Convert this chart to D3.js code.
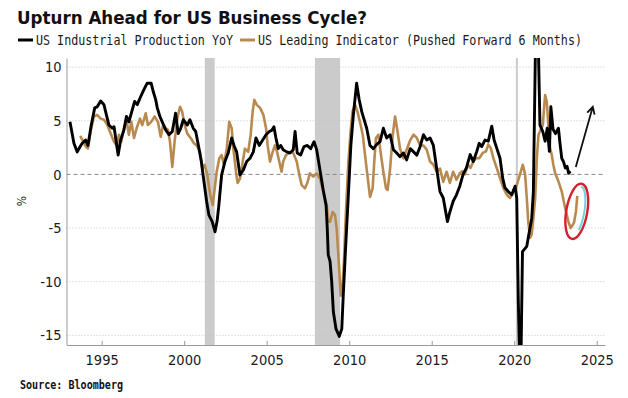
<!DOCTYPE html>
<html>
<head>
<meta charset="utf-8">
<script src="https://cdn.jsdelivr.net/npm/d3@7"></script>
<style>
  body { margin: 0; background: #fff; }
  svg { display: block; }
</style>
</head>
<body>
<div id="chart"></div>
<script>
const title = "Upturn Ahead for US Business Cycle?";
const seriesNames = ["US Industrial Production YoY", "US Leading Indicator (Pushed Forward 6 Months)"];
const sourceText = "Source: Bloomberg";

// [decimal year, % YoY]
const industrialProduction = [
    [1993.08, 4.9], [1993.32, 2.9], [1993.52, 2.1], [1993.7, 2.6], [1993.82, 2.9],
    [1994.03, 3.2], [1994.17, 2.7], [1994.37, 4.6], [1994.58, 6.2], [1994.73, 6.3],
    [1994.94, 6.85], [1995.14, 6.5], [1995.24, 5.85], [1995.44, 4.6], [1995.64, 4.3],
    [1995.75, 4.45], [1995.85, 3.4], [1996.0, 1.8], [1996.15, 3.2], [1996.35, 4.15],
    [1996.5, 5.4], [1996.65, 4.9], [1996.85, 6.0], [1997.0, 6.8], [1997.16, 6.5],
    [1997.32, 7.1], [1997.56, 7.9], [1997.76, 8.5], [1998.0, 8.5], [1998.13, 7.7],
    [1998.27, 7.0], [1998.37, 6.2], [1998.53, 5.4], [1998.67, 4.9], [1998.88, 4.15],
    [1999.08, 3.7], [1999.28, 4.0], [1999.48, 5.7], [1999.64, 3.8], [1999.79, 4.3],
    [1999.95, 5.1], [2000.19, 4.6], [2000.35, 5.1], [2000.55, 4.3], [2000.7, 4.0],
    [2000.9, 2.4], [2001.04, 1.2], [2001.2, -0.7], [2001.36, -2.5], [2001.5, -3.8],
    [2001.7, -4.4], [2001.87, -5.35], [2002.0, -4.3], [2002.1, -2.9], [2002.27, -0.05],
    [2002.47, 1.2], [2002.67, 2.0], [2002.88, 3.4], [2003.02, 2.7], [2003.18, 2.1],
    [2003.38, -0.05], [2003.58, 0.4], [2003.79, 1.2], [2003.99, 1.5], [2004.19, 2.1],
    [2004.35, 3.4], [2004.55, 2.7], [2004.76, 3.2], [2004.96, 3.7], [2005.16, 4.0],
    [2005.3, 4.1], [2005.44, 4.45], [2005.56, 3.4], [2005.7, 2.4], [2005.85, 2.7],
    [2006.0, 2.3], [2006.21, 2.1], [2006.41, 2.0], [2006.61, 2.3], [2006.72, 4.0],
    [2006.85, 2.0], [2007.06, 1.8], [2007.26, 2.6], [2007.46, 2.7], [2007.67, 2.4],
    [2007.87, 3.05], [2008.03, 2.3], [2008.23, 0.4], [2008.43, -1.5], [2008.6, -2.9],
    [2008.67, -5.0], [2008.73, -7.5], [2008.84, -8.1], [2008.94, -10.0], [2009.04, -12.8],
    [2009.2, -14.4], [2009.4, -15.1], [2009.55, -14.4], [2009.64, -11.25], [2009.79, -6.6],
    [2009.95, -1.9], [2010.1, 2.7], [2010.25, 5.5], [2010.45, 8.5], [2010.6, 7.0],
    [2010.76, 5.85], [2011.06, 4.3], [2011.26, 2.7], [2011.46, 2.4], [2011.67, 2.8],
    [2011.87, 3.05], [2012.07, 4.3], [2012.27, 3.4], [2012.48, 3.7], [2012.68, 2.3],
    [2012.88, 2.0], [2013.08, 1.65], [2013.28, 2.0], [2013.48, 1.35], [2013.7, 2.4],
    [2013.9, 2.1], [2014.1, 1.8], [2014.3, 2.6], [2014.5, 3.7], [2014.7, 3.2],
    [2014.9, 3.4], [2015.1, 2.7], [2015.3, 0.55], [2015.5, -1.6], [2015.7, -2.2],
    [2015.95, -4.4], [2016.1, -3.5], [2016.3, -2.5], [2016.5, -1.9], [2016.7, -1.1],
    [2016.9, 0], [2017.1, 0.6], [2017.33, 1.85], [2017.52, 1.2], [2017.73, 2.15],
    [2017.88, 2.9], [2018.03, 2.6], [2018.23, 3.2], [2018.43, 3.1], [2018.64, 4.5],
    [2018.78, 3.2], [2018.94, 2.45], [2019.14, 1.5], [2019.3, -0.35], [2019.44, -1.25],
    [2019.64, -1.6], [2019.85, -1.9], [2020.05, -1.1], [2020.15, -2.2], [2020.25, -12],
    [2020.32, -16.6], [2020.42, -16.0], [2020.5, -7.2], [2020.76, -6.7], [2020.92, -5.3],
    [2021.06, -4.1], [2021.16, -1.6], [2021.33, 16.5], [2021.42, 15.0], [2021.56, 4.6],
    [2021.73, 4.0], [2021.87, 3.1], [2022.0, 4.3], [2022.13, 2.15], [2022.22, 6.3],
    [2022.35, 4.2], [2022.5, 3.8], [2022.68, 4.3], [2022.78, 2.8], [2022.88, 1.5],
    [2022.98, 1.2], [2023.1, 0.6], [2023.2, 0.75], [2023.3, 0.1], [2023.4, 0.3]
];

const leadingIndicator = [
    [1993.7, 3.6], [1993.89, 3.05], [1994.03, 2.6], [1994.17, 2.4], [1994.33, 4.0],
    [1994.53, 5.4], [1994.73, 5.55], [1994.94, 5.2], [1995.14, 5.1], [1995.34, 4.6],
    [1995.55, 3.8], [1995.75, 3.05], [1995.91, 2.7], [1996.05, 3.7], [1996.19, 3.05],
    [1996.35, 4.3], [1996.5, 5.1], [1996.65, 3.7], [1996.8, 4.9], [1996.96, 3.4],
    [1997.12, 4.3], [1997.32, 5.2], [1997.46, 4.6], [1997.67, 5.7], [1997.8, 4.6],
    [1998.0, 4.9], [1998.21, 5.4], [1998.41, 4.9], [1998.58, 3.5], [1998.73, 4.6],
    [1998.88, 4.3], [1999.02, 4.15], [1999.14, 3.05], [1999.28, 0.7], [1999.42, 3.05],
    [1999.58, 5.2], [1999.75, 6.3], [1999.88, 5.85], [2000.03, 4.6], [2000.19, 3.8],
    [2000.39, 3.4], [2000.59, 2.9], [2000.76, 2.7], [2000.96, 2.1], [2001.1, 0.55],
    [2001.24, 0.9], [2001.4, -0.05], [2001.58, -1.9], [2001.73, -2.85], [2001.97, 0.25],
    [2002.13, 1.5], [2002.27, 1.8], [2002.41, 0.9], [2002.58, 2.4], [2002.73, 4.9],
    [2002.88, 4.3], [2002.98, 2.4], [2003.14, 0.25], [2003.24, -0.8], [2003.38, -0.4],
    [2003.55, 1.2], [2003.68, 2.4], [2003.88, 2.1], [2004.03, 3.7], [2004.15, 5.85],
    [2004.25, 6.95], [2004.39, 6.5], [2004.6, 6.2], [2004.8, 5.55], [2004.96, 4.3],
    [2005.06, 2.7], [2005.2, 1.2], [2005.36, 2.1], [2005.5, 2.7], [2005.63, 2.1],
    [2005.76, 1.2], [2005.9, 0.25], [2006.0, 1.2], [2006.17, 1.8], [2006.37, 2.0],
    [2006.58, 2.1], [2006.82, 1.2], [2006.98, -0.05], [2007.12, -1.0], [2007.32, -1.3],
    [2007.46, -0.8], [2007.62, 0.1], [2007.82, -0.2], [2008.03, 0.1], [2008.23, -0.4],
    [2008.43, -1.6], [2008.64, -2.85], [2008.73, -4.4], [2008.84, -4.4], [2009.0, -3.5],
    [2009.14, -3.8], [2009.24, -5.0], [2009.34, -7.5], [2009.49, -11.3], [2009.58, -11.0],
    [2009.68, -8.1], [2009.8, -3.5], [2009.95, 1.2], [2010.1, 4.3], [2010.2, 5.85],
    [2010.35, 6.5], [2010.5, 5.85], [2010.65, 4.9], [2010.82, 3.7], [2010.96, 1.8],
    [2011.1, -0.05], [2011.26, -2.1], [2011.42, -1.3], [2011.52, 1.2], [2011.62, 3.4],
    [2011.77, 3.7], [2011.9, 2.1], [2012.07, 0.25], [2012.23, -1.3], [2012.33, -1.45],
    [2012.48, 0.55], [2012.64, 3.7], [2012.78, 5.4], [2012.93, 4.0], [2013.08, 2.4],
    [2013.28, 1.5], [2013.48, 2.3], [2013.7, 3.2], [2013.9, 3.7], [2014.1, 3.4],
    [2014.3, 2.7], [2014.5, 2.7], [2014.7, 2.3], [2014.9, 1.2], [2015.1, 0.9],
    [2015.3, 0.25], [2015.5, 0.55], [2015.7, -0.7], [2015.9, 0.25], [2016.1, -0.8],
    [2016.3, 0.25], [2016.5, -0.5], [2016.7, 0.1], [2016.85, 0.3], [2017.0, 0],
    [2017.2, 0.9], [2017.35, 0.6], [2017.52, 1.2], [2017.68, 1.5], [2017.88, 1.5],
    [2018.09, 2.0], [2018.29, 2.15], [2018.43, 2.8], [2018.58, 2.45], [2018.74, 1.5],
    [2018.94, 0.6], [2019.14, -0.35], [2019.34, -1.25], [2019.55, -1.9], [2019.75, -2.2],
    [2019.95, -1.6], [2020.15, -1.0], [2020.35, 0], [2020.52, 0.9], [2020.66, 0],
    [2020.76, -2.2], [2020.85, -4.4], [2020.96, -5.9], [2021.06, -5.6], [2021.16, -4.1],
    [2021.27, -2.2], [2021.37, 1.5], [2021.47, 3.7], [2021.56, 4.0], [2021.73, 4.6],
    [2021.87, 7.4], [2021.97, 6.8], [2022.07, 4.6], [2022.17, 2.45], [2022.27, 1.85],
    [2022.37, 0.9], [2022.48, 0.1], [2022.68, -0.65], [2022.88, -1.6], [2023.08, -3.1],
    [2023.28, -4.4], [2023.42, -5.0], [2023.55, -4.7], [2023.62, -4.5], [2023.74, -3.45],
    [2023.82, -2.0]
];

const recessions = [[2001.25, 2001.85], [2007.92, 2009.45], [2020.1, 2020.22]];
const yTicks = [-15, -10, -5, 0, 5, 10];
const xTicks = [1995, 2000, 2005, 2010, 2015, 2020, 2025];

// annotation anchors in data units
const arrowFrom = [2023.73, 0.7];
const arrowTo = [2024.76, 6.3];
const circleAt = [2023.79, -3.44];

const width = 628, height = 398;
const margin = { top: 58, right: 23, bottom: 53, left: 66.5 };
const labelFont = "'DejaVu Sans Condensed', 'DejaVu Sans', sans-serif";
const monoFont = "'DejaVu Sans Mono', monospace";

const svg = d3.select("#chart").append("svg")
    .attr("width", width)
    .attr("height", height)
    .style("background", "#fff");

const x = d3.scaleLinear()
    .domain([1992.87, 2025.5])
    .range([margin.left, width - margin.right]);

const y = d3.scaleLinear()
    .domain([-15.9, 10.85])
    .range([height - margin.bottom, margin.top]);

svg.append("defs").append("clipPath")
    .attr("id", "plot-clip")
    .append("rect")
    .attr("x", x.range()[0])
    .attr("y", y.range()[1])
    .attr("width", x.range()[1] - x.range()[0])
    .attr("height", y.range()[0] - y.range()[1]);

// recession shading
svg.append("g").selectAll("rect")
    .data(recessions)
    .join("rect")
    .attr("x", d => x(d[0]))
    .attr("y", y.range()[1])
    .attr("width", d => x(d[1]) - x(d[0]))
    .attr("height", y.range()[0] - y.range()[1])
    .attr("fill", "#cbcbcb");

// grid
svg.append("g").selectAll("line")
    .data(yTicks)
    .join("line")
    .attr("x1", x.range()[0])
    .attr("x2", x.range()[1])
    .attr("y1", d => y(d))
    .attr("y2", d => y(d))
    .attr("stroke", d => d === 0 ? "#8a8a8a" : "#c4c4c4")
    .attr("stroke-width", 1)
    .attr("stroke-dasharray", d => d === 0 ? "4,3" : "1,2");

// axes
const yAxis = svg.append("g")
    .attr("transform", `translate(${x.range()[0]},0)`)
    .call(d3.axisLeft(y).tickValues(yTicks).tickSize(0).tickPadding(5).tickFormat(d3.format("d")));

const xAxis = svg.append("g")
    .attr("transform", `translate(0,${y.range()[0]})`)
    .call(d3.axisBottom(x).tickValues(xTicks).tickSizeInner(-4).tickSizeOuter(0).tickPadding(10).tickFormat(d3.format("d")));

[xAxis, yAxis].forEach(function(axis) {
    axis.select(".domain").attr("stroke", "#9a9a9a");
    axis.selectAll(".tick line").attr("stroke", "#9a9a9a");
    axis.selectAll("text")
        .attr("fill", "#1a1a1a")
        .style("font-family", labelFont)
        .style("font-stretch", "condensed")
        .style("font-size", "14.5px");
});
yAxis.selectAll("text").text(d => d < 0 ? "-" + Math.abs(d) : d);

svg.append("text")
    .attr("transform", "translate(26,201) rotate(-90)")
    .attr("text-anchor", "middle")
    .style("font-family", labelFont)
    .style("font-size", "12px")
    .attr("fill", "#223322")
    .text("%");

// series
const line = d3.line()
    .x(d => x(d[0]))
    .y(d => y(d[1]));

const lines = svg.append("g").attr("clip-path", "url(#plot-clip)");

lines.append("path")
    .datum(leadingIndicator)
    .attr("fill", "none")
    .attr("stroke", "#b98a50")
    .attr("stroke-width", 2.6)
    .attr("stroke-linejoin", "round")
    .attr("d", line);

lines.append("path")
    .datum(industrialProduction)
    .attr("fill", "none")
    .attr("stroke", "#000")
    .attr("stroke-width", 2.9)
    .attr("stroke-linejoin", "round")
    .attr("d", line);

// annotations
const ax0 = x(arrowFrom[0]), ay0 = y(arrowFrom[1]);
const ax1 = x(arrowTo[0]), ay1 = y(arrowTo[1]);
const angle = Math.atan2(ay1 - ay0, ax1 - ax0);
const head = 8;
svg.append("path")
    .attr("d", `M${ax0},${ay0}L${ax1},${ay1}` +
        `M${ax1 - head * Math.cos(angle - 0.5)},${ay1 - head * Math.sin(angle - 0.5)}L${ax1},${ay1}` +
        `L${ax1 - head * Math.cos(angle + 0.5)},${ay1 - head * Math.sin(angle + 0.5)}`)
    .attr("fill", "none")
    .attr("stroke", "#111")
    .attr("stroke-width", 1.8);

const circle = svg.append("g")
    .attr("transform", `translate(${x(circleAt[0])},${y(circleAt[1])}) rotate(10)`);

circle.append("ellipse")
    .attr("rx", 7.5)
    .attr("ry", 25)
    .attr("fill", "none")
    .attr("stroke", "#6fd3dc")
    .attr("stroke-width", 2)
    .attr("pathLength", 360)
    .attr("stroke-dasharray", "60 210 90");

circle.append("ellipse")
    .attr("rx", 10.5)
    .attr("ry", 28)
    .attr("fill", "none")
    .attr("stroke", "#d3202c")
    .attr("stroke-width", 2.4);

// title, legend, source
svg.append("text")
    .attr("x", 17)
    .attr("y", 24)
    .attr("textLength", 350)
    .attr("lengthAdjust", "spacingAndGlyphs")
    .style("font-family", "'DejaVu Sans', sans-serif")
    .style("font-weight", "bold")
    .style("font-size", "17px")
    .attr("fill", "#111")
    .text(title);

const legendItems = [
    { name: seriesNames[0], color: "#000", x0: 18, textX: 36, textLen: 197 },
    { name: seriesNames[1], color: "#b98a50", x0: 240, textX: 258, textLen: 324 }
];

// mono text stretched vertically to mimic the tall, narrow legend face
const legend = svg.append("g").attr("class", "legend");
legendItems.forEach(function(item) {
    legend.append("line")
        .attr("x1", item.x0)
        .attr("x2", item.x0 + 15)
        .attr("y1", 40)
        .attr("y2", 40)
        .attr("stroke", item.color)
        .attr("stroke-width", 3);
    legend.append("text")
        .attr("transform", `translate(${item.textX},45) scale(1,1.2)`)
        .attr("textLength", item.textLen)
        .attr("lengthAdjust", "spacingAndGlyphs")
        .style("font-family", monoFont)
        .style("font-size", "11.8px")
        .attr("fill", "#1a1a1a")
        .text(item.name);
});

svg.append("text")
    .attr("transform", "translate(20,389) scale(1,1.15)")
    .attr("textLength", 103)
    .attr("lengthAdjust", "spacingAndGlyphs")
    .style("font-family", monoFont)
    .style("font-weight", "bold")
    .style("font-size", "10.5px")
    .attr("fill", "#111")
    .text(sourceText);
</script>
</body>
</html>
